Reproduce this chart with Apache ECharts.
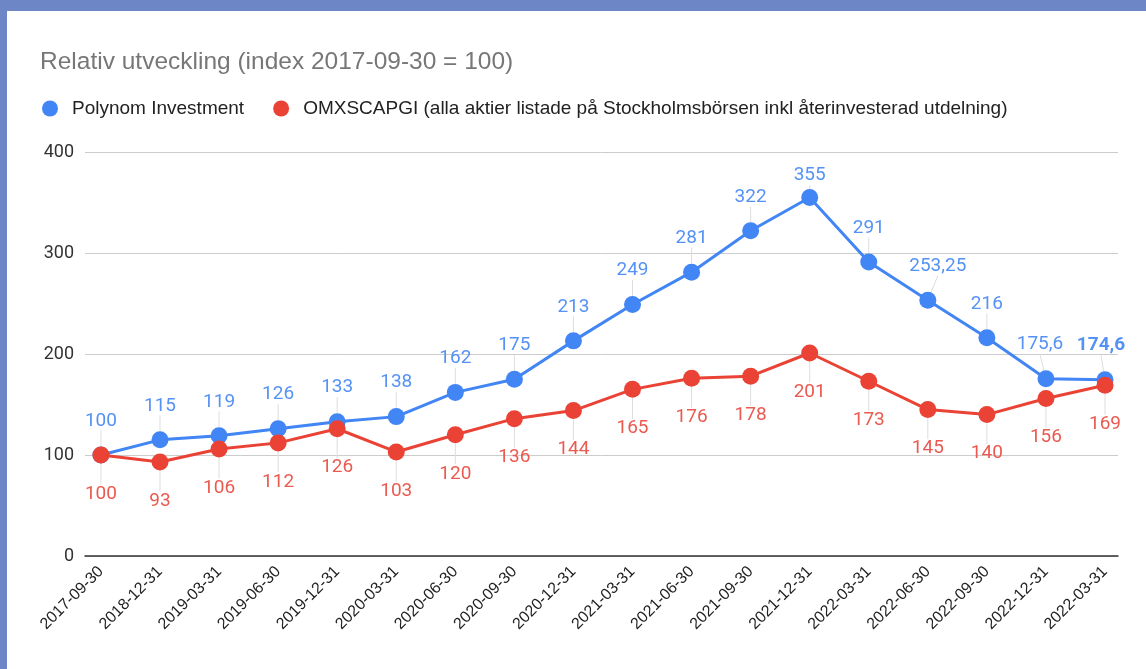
<!DOCTYPE html>
<html>
<head>
<meta charset="utf-8">
<script src="https://cdn.jsdelivr.net/npm/echarts@6/dist/echarts.min.js"></script>
<style>
  html, body { margin: 0; padding: 0; background: #6d87c6; }
  #myChart {
    position: absolute;
    left: 7px;
    top: 11px;
    width: 1139px;
    height: 658px;
    background: #fff;
  }
</style>
</head>
<body>
<div id="myChart"></div>
<script>
var title = "Relativ utveckling (index 2017-09-30 = 100)";
var categories = ["2017-09-30", "2018-12-31", "2019-03-31", "2019-06-30", "2019-12-31", "2020-03-31",
  "2020-06-30", "2020-09-30", "2020-12-31", "2021-03-31", "2021-06-30", "2021-09-30",
  "2021-12-31", "2022-03-31", "2022-06-30", "2022-09-30", "2022-12-31", "2022-03-31"];
var polynom = [100, 115, 119, 126, 133, 138, 162, 175, 213, 249, 281, 322, 355, 291, 253.25, 216, 175.6, 174.6];
var omx = [100, 93, 106, 112, 126, 103, 120, 136, 144, 165, 176, 178, 201, 173, 145, 140, 156, 169];
var yTicks = [0, 100, 200, 300, 400];

var seriesNames = ["Polynom Investment", "OMXSCAPGI (alla aktier listade på Stockholmsbörsen inkl återinvesterad utdelning)"];

// small nudges the original chart makes to keep labels apart
var blueNudgeX = { 14: 10, 16: -6, 17: -4 };

function fmt(v) {
  return String(v).replace(".", ",");
}

function toData(arr, boldLast) {
  return arr.map(function (v, i) {
    var item = { value: [i, v] };
    if (boldLast && i === arr.length - 1) {
      item.label = { fontWeight: "bold" };
    }
    return item;
  });
}

var idx = categories.map(function (c, i) { return i; });

var myChart = echarts.init(document.getElementById("myChart"));
myChart.setOption({
  animation: false,
  textStyle: { fontFamily: "Roboto, Arial, sans-serif" },
  title: {
    text: title,
    left: 28,
    top: 34,
    textStyle: {
      fontFamily: "Liberation Sans, Arial, sans-serif",
      fontSize: 24.5,
      fontWeight: "normal",
      color: "#777"
    }
  },
  legend: {
    left: 30,
    top: 83,
    icon: "circle",
    itemWidth: 16,
    itemHeight: 16,
    itemGap: 29,
    data: seriesNames,
    textStyle: {
      fontFamily: "Liberation Sans, Arial, sans-serif",
      fontSize: 19,
      color: "#222",
      padding: [0, 0, 0, 9]
    }
  },
  grid: {
    left: 78,
    right: 28,
    top: 141,
    bottom: 113,
    containLabel: false
  },
  xAxis: {
    type: "value",
    min: -0.27,
    max: 17.22,
    splitLine: { show: false },
    axisTick: { show: false },
    axisLine: { show: true, lineStyle: { color: "#333", width: 1.5 } },
    axisLabel: {
      customValues: idx,
      rotate: 45,
      margin: 13,
      fontFamily: "Liberation Sans, Arial, sans-serif",
      fontSize: 16,
      color: "#222",
      formatter: function (v) { return categories[Math.round(v)]; }
    }
  },
  yAxis: {
    type: "value",
    min: yTicks[0],
    max: yTicks[yTicks.length - 1],
    interval: 100,
    axisLine: { show: false },
    axisTick: { show: false },
    splitLine: { lineStyle: { color: "#cccccc", width: 1 } },
    axisLabel: {
      margin: 11,
      fontFamily: "Roboto, Arial, sans-serif",
      fontSize: 18,
      color: "#333"
    }
  },
  series: [
    {
      name: seriesNames[0],
      type: "line",
      data: toData(polynom, true),
      symbol: "circle",
      symbolSize: 17,
      color: "#4285f4",
      lineStyle: { width: 3 },
      label: {
        show: true,
        position: "top",
        distance: 1,
        fontSize: 19,
        color: "#5592f5",
        formatter: function (p) { return fmt(p.value[1]); }
      },
      labelLayout: function (p) {
        return {
          dy: p.dataIndex === 12 ? -3 : -15,
          dx: blueNudgeX[p.dataIndex] || 0
        };
      },
      labelLine: { show: true, lineStyle: { color: "#dddddd", width: 1 } }
    },
    {
      name: seriesNames[1],
      type: "line",
      data: toData(omx, false),
      symbol: "circle",
      symbolSize: 17,
      color: "#ea4335",
      lineStyle: { width: 3 },
      label: {
        show: true,
        position: "bottom",
        distance: 1,
        fontSize: 19,
        color: "#eb5a50",
        formatter: function (p) { return fmt(p.value[1]); }
      },
      labelLayout: { dy: 20 },
      labelLine: { show: true, lineStyle: { color: "#dddddd", width: 1 } }
    }
  ]
});
</script>
</body>
</html>
